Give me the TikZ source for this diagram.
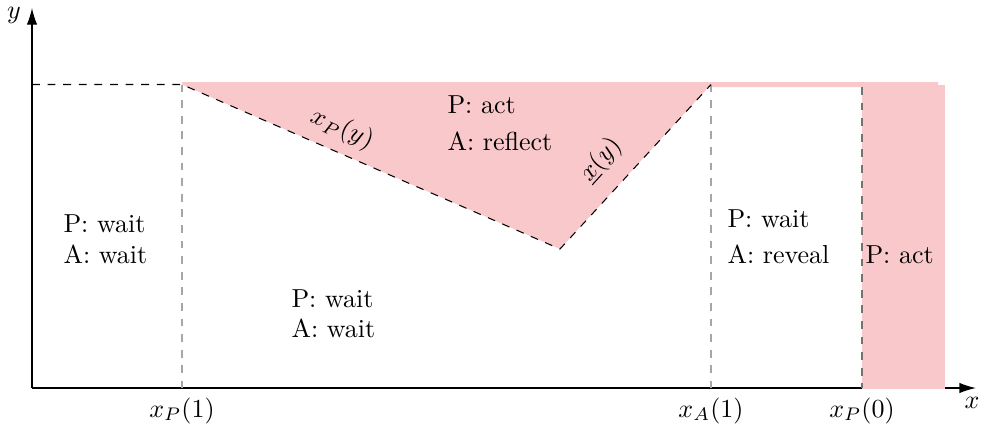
\documentclass[tikz,border=0pt]{standalone}
\usetikzlibrary{arrows.meta}
\definecolor{pinkf}{RGB}{249,200,202}
\begin{document}
\begin{tikzpicture}[x=0.3846pt,y=-0.3846pt,
  lbl/.style={anchor=base west,inner sep=0pt},
  bnd/.style={dashed,line width=0.4pt},
  grid/.style={dashed,gray!70,line width=0.4pt},
  axis/.style={-{Latex[length=8pt*0.8,width=5pt*0.8]},line width=0.5pt}]
\useasboundingbox (0,0) rectangle (986,429);
% axes
\coordinate (O) at (32,388);
\coordinate (Xe) at (976,388);
\coordinate (Ye) at (32,8);
\draw[axis] (O) -- (Xe);
\draw[axis] (O) -- (Ye);
\node[anchor=base] (xl) at (972,408) {$x$};
\node[anchor=base] (yl) at (14,18) {$y$};
% key points
\coordinate (A) at (182,84.5);
\coordinate (B) at (560,249);
\coordinate (C) at (711,84.5);
\coordinate (L) at (32,84.5);
% fills
\fill[pinkf] (182,82) -- (938,82) -- (938,87) -- (711,87) -- (C) -- (B) -- (A) -- cycle;
\fill[pinkf] (862,85) rectangle (945,388.6);
% guides
\draw[grid] (A) -- (182,388);
\draw[grid] (C) -- (711,388);
\draw[dashed,gray!90!black,line width=0.6pt] (862,87) -- (862,388);
\draw[bnd] (L) -- (A) -- (B) -- (C);
% curve labels
\node[rotate=-24] (xpy) at (342,129) {$x_P(y)$};
\node[rotate=48] (uxy) at (601,160) {$\underline{x}(y)$};
% region labels
\node[lbl] (r1a) at (63,232) {P: wait};
\node[lbl] (r1b) at (63,263) {A: wait};
\node[lbl] (r2a) at (447,113) {P: act};
\node[lbl] (r2b) at (447,150) {A: reflect};
\node[lbl] (r3a) at (291,307) {P: wait};
\node[lbl] (r3b) at (291,337) {A: wait};
\node[lbl] (r4a) at (727,227) {P: wait};
\node[lbl] (r4b) at (727,263) {A: reveal};
\node[lbl] (r5) at (865,263) {P: act};
% tick labels
\node[anchor=base] (t1) at (182,417) {$x_P(1)$};
\node[anchor=base] (t2) at (711,417) {$x_A(1)$};
\node[anchor=base] (t3) at (862,417) {$x_P(0)$};
\end{tikzpicture}
\end{document}
